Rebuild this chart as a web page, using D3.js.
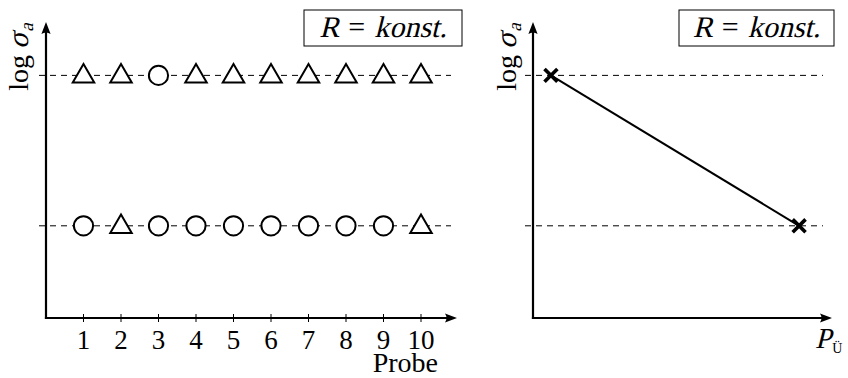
<!DOCTYPE html>
<html>
<head>
<meta charset="utf-8">
<script src="https://cdn.jsdelivr.net/npm/d3@7"></script>
<style>
  html, body { margin: 0; padding: 0; background: #fff; }
  svg { display: block; }
  text { font-family: "Liberation Serif", "Times New Roman", serif; fill: #000; }
</style>
</head>
<body>
<script>
// Probe numbers along the left x axis
const probes = [1, 2, 3, 4, 5, 6, 7, 8, 9, 10];
// Stress level (log σa) of each probe, in units of the upper level
const levels = [1, 0.38];
// Result per probe on each level: "D" = runout (triangle), "O" = failure (circle)
const upperOutcome = ["D", "D", "O", "D", "D", "D", "D", "D", "D", "D"];
const lowerOutcome = ["O", "D", "O", "O", "O", "O", "O", "O", "O", "D"];
// Right panel: overload share P_Ü against log σa
const pU = [0.06, 0.89];
const logSigma = [1, 0.38];
const tickLabels = probes.map(String);

const W = 848, H = 378;
const svg = d3.select("body").append("svg").attr("width", W).attr("height", H);

const y = d3.scaleLinear().domain([0, 1.22]).range([318, 22]);

// Math-style label built from pieces: {t, size, it (slanted), dy, gap}
// laid out left to right inside group g, starting at x = 0 on the baseline.
function mathLabel(g, pieces) {
  let cx = 0;
  pieces.forEach(p => {
    cx += p.gap || 0;
    const t = g.append("text")
      .attr("font-size", p.size)
      .attr("transform", `translate(${cx},${p.dy || 0})` + (p.it ? " skewX(-14)" : ""))
      .text(p.t);
    cx += t.node().getComputedTextLength();
  });
  return cx;
}

// Filled LaTeX-style arrow head pointing along angle (radians) at (tx, ty)
function arrowHead(g, tx, ty, angle) {
  const L = 12, hw = 4.6, back = 3;
  const p = d3.path();
  p.moveTo(0, 0);
  p.lineTo(-L, -hw);
  p.quadraticCurveTo(-L + back, 0, -L, hw);
  p.closePath();
  g.append("path").attr("d", p.toString())
    .attr("transform", `translate(${tx},${ty}) rotate(${angle * 180 / Math.PI})`)
    .attr("fill", "#000");
}

function axes(g, x0, xEnd) {
  const y0 = y(0), yTop = y.range()[1];
  g.append("line").attr("x1", x0).attr("y1", y0 + 1).attr("x2", x0).attr("y2", yTop + 6)
    .attr("stroke", "#000").attr("stroke-width", 2.2);
  arrowHead(g, x0, yTop, -Math.PI / 2);
  g.append("line").attr("x1", x0 - 1.1).attr("y1", y0).attr("x2", xEnd - 6).attr("y2", y0)
    .attr("stroke", "#000").attr("stroke-width", 2.2);
  arrowHead(g, xEnd, y0, 0);
}

function yLabel(g, cx, cy) {
  const outer = g.append("g").attr("transform", `translate(${cx},${cy}) rotate(-90)`);
  const inner = outer.append("g");
  const w = mathLabel(inner, [
    { t: "log", size: 28 },
    { t: "σ", size: 30, it: true, gap: 6 },
    { t: "a", size: 19, it: true, dy: 5, gap: 1 }
  ]);
  inner.attr("transform", `translate(${-w / 2},0)`);
}

function constBox(g, x1, x2) {
  g.append("rect").attr("x", x1).attr("y", 10).attr("width", x2 - x1).attr("height", 36)
    .attr("fill", "#fff").attr("stroke", "#000").attr("stroke-width", 1);
  const inner = g.append("g");
  const w = mathLabel(inner, [
    { t: "R", size: 30, it: true },
    { t: "=", size: 30, gap: 9 },
    { t: "konst.", size: 30, it: true, gap: 9 }
  ]);
  inner.attr("transform", `translate(${(x1 + x2) / 2 - w / 2},37)`);
}

function dashed(g, x1, x2, v) {
  g.append("line").attr("x1", x1).attr("x2", x2).attr("y1", y(v)).attr("y2", y(v))
    .attr("stroke", "#000").attr("stroke-width", 1).attr("stroke-dasharray", "6,5");
}

// ---------- Left panel ----------
const left = svg.append("g");
const x = d3.scaleLinear().domain([0, 11]).range([46, 458.5]);

levels.forEach(v => dashed(left, 39, 451, v));
axes(left, x(0), 457);

// x ticks and labels
left.selectAll(".tick").data(probes).join("line")
  .attr("x1", d => x(d)).attr("x2", d => x(d)).attr("y1", y(0) - 4).attr("y2", y(0) + 4)
  .attr("stroke", "#000").attr("stroke-width", 1);
left.selectAll(".tl").data(probes).join("text")
  .attr("x", d => x(d)).attr("y", 349).attr("text-anchor", "middle")
  .attr("font-size", 27).text((d, i) => tickLabels[i]);
left.append("text").attr("x", 438).attr("y", 372).attr("text-anchor", "end")
  .attr("font-size", 28).text("Probe");

yLabel(left, 28, 57);
constBox(left, 304, 462);

const tri = d3.symbol().type(d3.symbolTriangle).size(200)();
function drawRow(outcomes, v) {
  outcomes.forEach((o, i) => {
    const cx = x(probes[i]), cy = y(v);
    if (o === "O") {
      left.append("circle").attr("cx", cx).attr("cy", cy).attr("r", 9.6)
        .attr("fill", "#fff").attr("stroke", "#000").attr("stroke-width", 2);
    } else {
      left.append("path").attr("d", tri)
        .attr("transform", `translate(${cx},${cy + 1})`)
        .attr("fill", "#fff").attr("stroke", "#000").attr("stroke-width", 2)
        .attr("stroke-linejoin", "miter");
    }
  });
}
drawRow(upperOutcome, levels[0]);
drawRow(lowerOutcome, levels[1]);

// ---------- Right panel ----------
const right = svg.append("g");
const xr = d3.scaleLinear().domain([0, 1]).range([533, 832]);

levels.forEach(v => dashed(right, 525, 823, v));
axes(right, xr(0), 832);
yLabel(right, 516, 57);
constBox(right, 679, 834);

const pts = pU.map((p, i) => [xr(p), y(logSigma[i])]);
right.append("path").attr("d", d3.line()(pts))
  .attr("fill", "none").attr("stroke", "#000").attr("stroke-width", 2);
const cross = d3.symbol().type(d3.symbolX).size(110)();
right.selectAll(".mk").data(pts).join("path")
  .attr("d", cross).attr("transform", d => `translate(${d[0]},${d[1]})`)
  .attr("fill", "none").attr("stroke", "#000").attr("stroke-width", 3.6);

const pg = right.append("g").attr("transform", "translate(815,348)");
mathLabel(pg, [
  { t: "P", size: 29, it: true },
  { t: "Ü", size: 14, dy: 5, gap: 1 }
]);
</script>
</body>
</html>
